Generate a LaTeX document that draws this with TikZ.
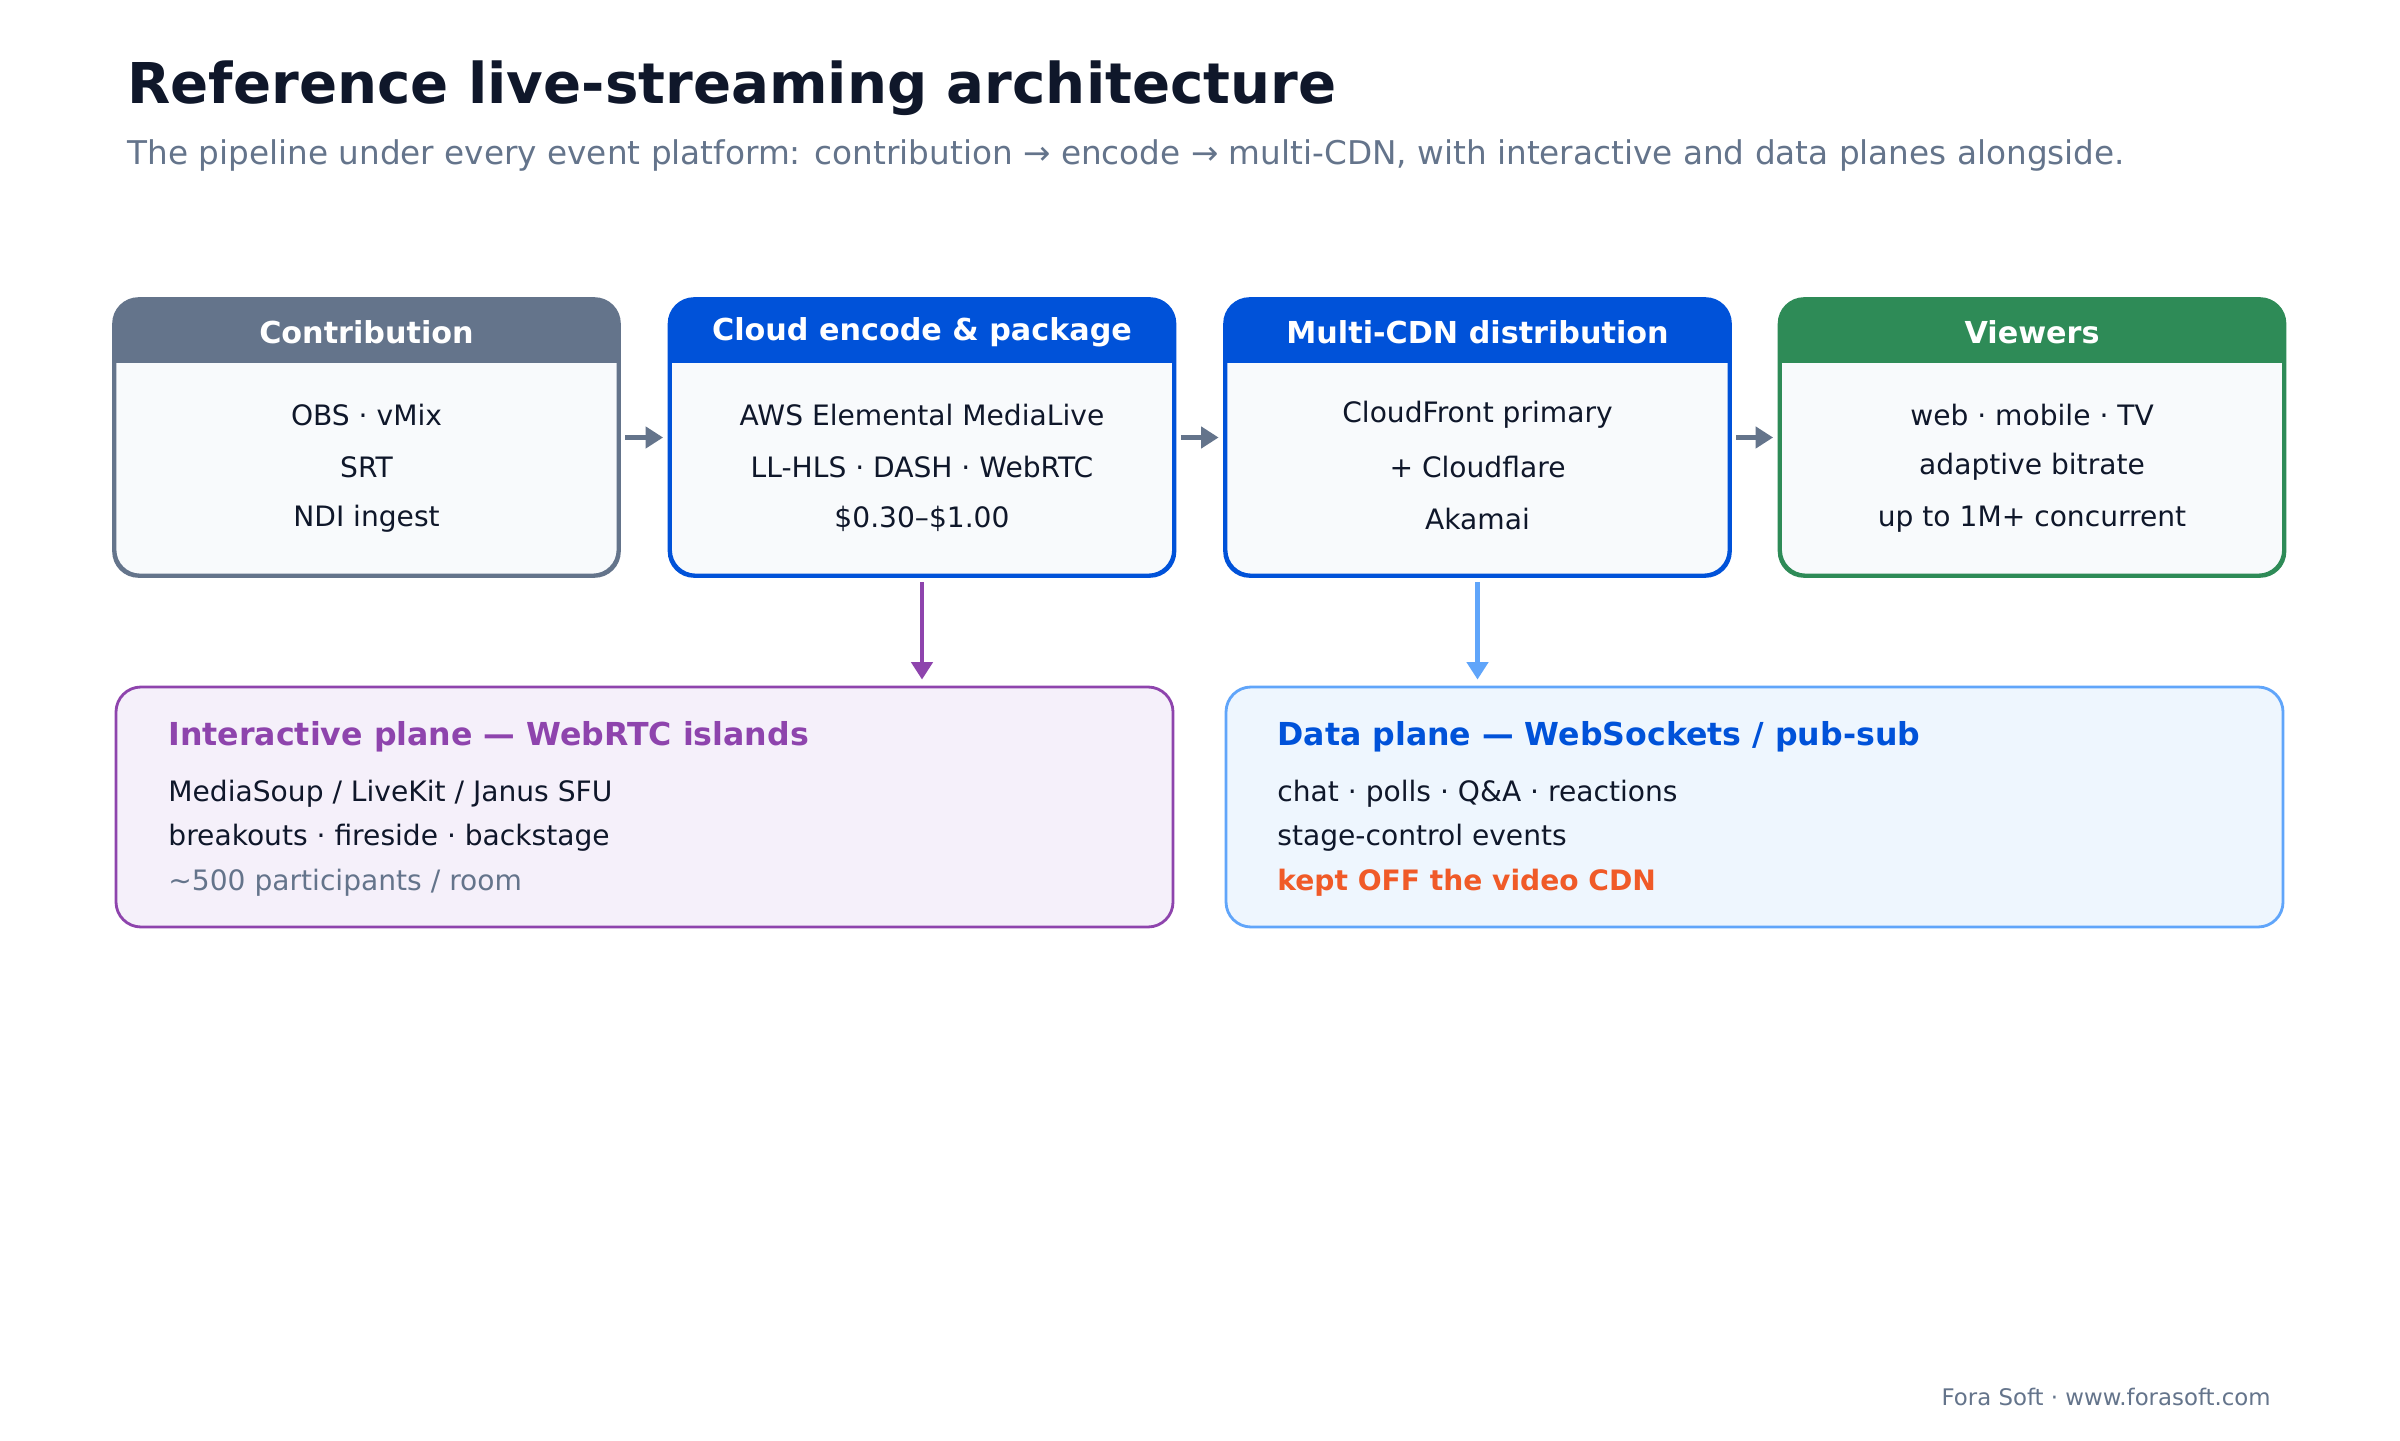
\documentclass[tikz,border=0pt]{standalone}
\usepackage{fontspec}
\setmainfont{DejaVu Sans}
\usetikzlibrary{arrows.meta,positioning}
\definecolor{slate}{HTML}{64748B}
\definecolor{blueA}{HTML}{0052D9}
\definecolor{greenA}{HTML}{2E8B57}
\definecolor{purpleA}{HTML}{8E44AD}
\definecolor{skyA}{HTML}{60A5FA}
\definecolor{orangeA}{HTML}{F05A28}
\definecolor{ink}{HTML}{0F172A}
\definecolor{paleA}{HTML}{F8FAFC}
\definecolor{paleP}{HTML}{F5F0FA}
\definecolor{paleB}{HTML}{EEF6FE}
\tikzset{
  stagebox/.style={draw=#1, line width=0.8pt, fill=paleA, rounded corners=0.25cm,
    minimum width=5.03cm, minimum height=2.75cm},
  planebox/.style={line width=0.8pt, rounded corners=0.25cm,
    minimum width=10.57cm, minimum height=2.4cm},
  headtxt/.style={text=white, font=\fontsize{8.6}{10}\selectfont\bfseries},
  bodytxt/.style={text=ink, font=\fontsize{8}{10}\selectfont},
  flow/.style={draw=slate, line width=1.3pt, -{Triangle[length=5pt,width=6pt]}}
}
\begin{document}
\begin{tikzpicture}
\useasboundingbox[fill=white] (0,0) rectangle (24,14.4);

\node[anchor=base west, text=ink, font=\fontsize{16}{18}\selectfont\bfseries] (title) at (1.15,13.36) {Reference live-streaming architecture};
\node[anchor=west, text=slate, font=\fontsize{9.3}{11}\selectfont] (subtitle) at (1.15,12.85) {The pipeline under every event platform: contribution → encode → multi-CDN, with interactive and data planes alongside.};

% stages
\foreach \nm/\x/\col/\head/\la/\lb/\lc in {
  contrib/3.665/slate/Contribution/OBS · vMix/SRT / NDI ingest/hot-standby encoder,
  encode/9.22/blueA/Cloud encode \& package/AWS Elemental MediaLive/LL-HLS · DASH · WebRTC/\$0.30–\$1.00 / GB,
  cdn/14.775/blueA/Multi-CDN distribution/CloudFront primary/+ Cloudflare / Akamai/2-min failover window,
  viewers/20.32/greenA/Viewers/web · mobile · TV/adaptive bitrate/up to 1M+ concurrent}{
  \node[stagebox=\col] (\nm) at (\x,10.025) {};
  \fill[\col] (\nm.south west |- 0,10.77) [rounded corners=0.25cm]-- (\nm.north west) -- (\nm.north east) [sharp corners]-- (\nm.south east |- 0,10.77) -- cycle;
  \draw[\col, line width=0.8pt, rounded corners=0.25cm] (\nm.north west) rectangle (\nm.south east);
  \node[headtxt] at (\x,11.08) {\head};
  \node[bodytxt] at (\x,10.25) {\la};
  \node[bodytxt] at (\x,9.73) {\lb};
  \node[bodytxt] at (\x,9.21) {\lc};
}

\draw[flow, shorten <=0.06cm, shorten >=0.06cm] (contrib.east) -- (encode.west);
\draw[flow, shorten <=0.06cm, shorten >=0.06cm] (encode.east) -- (cdn.west);
\draw[flow, shorten <=0.06cm, shorten >=0.06cm] (cdn.east) -- (viewers.west);

% planes
\node[planebox, draw=purpleA, fill=paleP] (interactive) at (6.445,6.33) {};
\node[planebox, draw=skyA, fill=paleB] (dataplane) at (17.545,6.33) {};

\node[anchor=west, text=purpleA, font=\fontsize{9}{11}\selectfont\bfseries] at (1.56,7.03) {Interactive plane — WebRTC islands};
\node[anchor=west, bodytxt] at (1.56,6.46) {MediaSoup / LiveKit / Janus SFU};
\node[anchor=west, bodytxt] at (1.56,6.02) {breakouts · fireside · backstage};
\node[anchor=west, bodytxt, text=slate] at (1.56,5.57) {\textasciitilde 500 participants / room};

\node[anchor=west, text=blueA, font=\fontsize{9}{11}\selectfont\bfseries] at (12.65,7.03) {Data plane — WebSockets / pub-sub};
\node[anchor=west, bodytxt] at (12.65,6.46) {chat · polls · Q\&A · reactions};
\node[anchor=west, bodytxt] at (12.65,6.02) {stage-control events};
\node[anchor=west, text=orangeA, font=\fontsize{8}{10}\selectfont\bfseries] at (12.65,5.57) {kept OFF the video CDN};

\draw[flow, draw=purpleA, shorten <=0.06cm, shorten >=0.06cm] (encode.south) -- (encode.south |- interactive.north);
\draw[flow, draw=skyA, shorten <=0.06cm, shorten >=0.06cm] (cdn.south) -- (cdn.south |- dataplane.north);

\node[anchor=east, text=slate, font=\fontsize{6.5}{8}\selectfont] (footer) at (22.83,0.43) {Fora Soft · www.forasoft.com};
\end{tikzpicture}
\end{document}
